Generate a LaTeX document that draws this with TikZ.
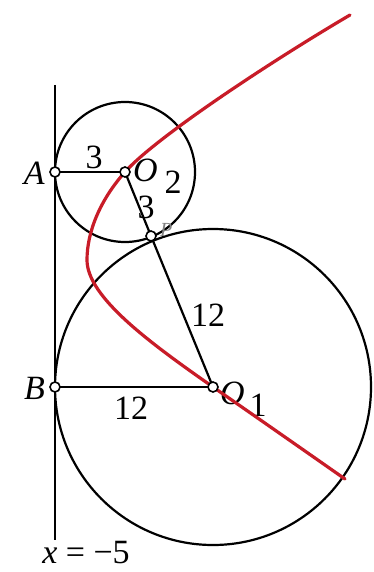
\documentclass[tikz,border=0pt]{standalone}
\usepackage{fontspec}
\setmainfont{Liberation Serif}
\begin{document}
\begin{tikzpicture}[x=1pt,y=-1pt,
  blk/.style={black,line width=2.2pt},
  redc/.style={draw={rgb,255:red,200;green,28;blue,40},line width=3.2pt,line cap=round},
  pt/.style={circle,draw=black,fill=white,line width=1.6pt,inner sep=0pt,minimum size=10pt},
  lab/.style={font=\fontsize{34}{36}\selectfont,inner sep=0pt}]
\useasboundingbox (0,0) rectangle (374,572);
\fill[white] (0,0) rectangle (374,572);
% points
\coordinate (A) at (55,172);
\coordinate (O2) at (125,172);
\coordinate (P) at (151,236);
\coordinate (B) at (55,387);
\coordinate (O1) at (213,387);
\coordinate (Ltop) at (55,85);
\coordinate (Lbot) at (55,540);
% circles and lines
\draw[blk] (O2) circle (70);
\draw[blk] (O1) circle (158);
\draw[blk] (Ltop) -- (Lbot);
\draw[blk] (A) -- (O2);
\draw[blk] (O2) -- (P);
\draw[blk] (P) -- (O1);
\draw[blk] (B) -- (O1);
% labels
\node[lab,anchor=east] (lA) at (45,173) {\textit{A}};
\node[lab,anchor=east] (lB) at (45,388) {\textit{B}};
\node[lab] (l3a) at (94,157) {3};
\node[lab] (l3b) at (146,207) {3};
\node[lab] (l12a) at (208,315) {12};
\node[lab] (l12b) at (131,408) {12};
\node[lab,anchor=west,text=black!50] (lP) at (160,230) {\fontsize{20}{22}\selectfont\textit{P}};
\node[lab,anchor=west] (lO2) at (133,170) {\textit{O}};
\node[lab] (l2) at (173,182) {2};
\node[lab,anchor=west] (lO1) at (220,393) {\textit{O}};
\node[lab] (l1) at (258,405) {1};
\node[lab] (lx) at (86,553) {\textit{x} = −5};
% red curve
\draw[redc] (350,15) .. controls (270,62) and (155,138) .. (O2)
  .. controls (100,200) and (87,232) .. (87,260)
  .. controls (87,297) and (150,343) .. (O1)
  .. controls (262,421) and (305,451) .. (345,479);
% points on top
\node[pt] (pA) at (A) {};
\node[pt] (pO2) at (O2) {};
\node[pt] (pP) at (P) {};
\node[pt] (pB) at (B) {};
\node[pt] (pO1) at (O1) {};
\end{tikzpicture}
\end{document}
